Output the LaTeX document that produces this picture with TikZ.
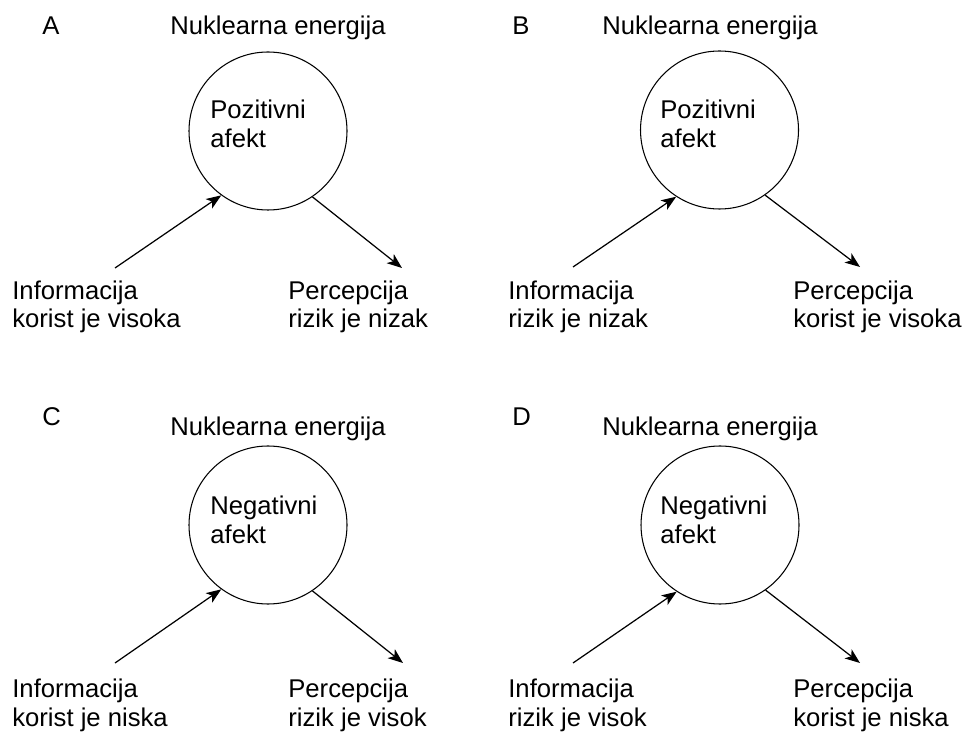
\documentclass[tikz,border=0pt]{standalone}
\usepackage{fontspec}
\setmainfont{Liberation Sans}
\usetikzlibrary{arrows.meta}

\begin{document}
\begin{tikzpicture}[
  txt/.style={anchor=base west, inner sep=0pt, align=left, font=\fontsize{14.6}{16.5}\selectfont},
  afekt/.style={draw, circle, line width=0.6pt, minimum size=3.16cm, inner sep=0pt},
  arr/.style={-{Stealth[length=3mm, width=2.3mm, inset=0.8mm]}, line width=0.7pt}
]
\useasboundingbox (0,0) rectangle (19.26,14.66);

% Panel A
\node[txt] (labA) at (0.84,13.96) {A};
\node[txt] (titA) at (3.40,13.96) {Nuklearna energija};
\node[afekt] (circA) at (5.36,12.04) {};
\node[txt] (textA) at (4.20,11.70) {Pozitivni\\afekt};
\node[txt] (infoA) at (0.24,8.10) {Informacija\\korist je visoka};
\node[txt] (percA) at (5.76,8.10) {Percepcija\\rizik je nizak};
\coordinate (startA) at (2.30,9.30);
\coordinate (endA) at (8.04,9.30);
\draw[arr] (startA) -- (circA.234);
\draw[arr] (circA.304) -- (endA);

% Panel B
\node[txt] (labB) at (10.24,13.96) {B};
\node[txt] (titB) at (12.04,13.96) {Nuklearna energija};
\node[afekt] (circB) at (14.39,12.06) {};
\node[txt] (textB) at (13.20,11.70) {Pozitivni\\afekt};
\node[txt] (infoB) at (10.16,8.10) {Informacija\\rizik je nizak};
\node[txt] (percB) at (15.86,8.10) {Percepcija\\korist je visoka};
\coordinate (startB) at (11.46,9.32);
\coordinate (endB) at (17.20,9.32);
\draw[arr] (startB) -- (circB.237);
\draw[arr] (circB.305) -- (endB);

% Panel C
\node[txt] (labC) at (0.84,6.16) {C};
\node[txt] (titC) at (3.40,5.96) {Nuklearna energija};
\node[afekt] (circC) at (5.36,4.16) {};
\node[txt] (textC) at (4.20,3.80) {Negativni\\afekt};
\node[txt] (infoC) at (0.24,0.14) {Informacija\\korist je niska};
\node[txt] (percC) at (5.76,0.14) {Percepcija\\rizik je visok};
\coordinate (startC) at (2.30,1.40);
\coordinate (endC) at (8.06,1.40);
\draw[arr] (startC) -- (circC.234);
\draw[arr] (circC.304) -- (endC);

% Panel D
\node[txt] (labD) at (10.24,6.16) {D};
\node[txt] (titD) at (12.04,5.96) {Nuklearna energija};
\node[afekt] (circD) at (14.40,4.16) {};
\node[txt] (textD) at (13.20,3.80) {Negativni\\afekt};
\node[txt] (infoD) at (10.16,0.14) {Informacija\\rizik je visok};
\node[txt] (percD) at (15.86,0.14) {Percepcija\\korist je niska};
\coordinate (startD) at (11.46,1.40);
\coordinate (endD) at (17.20,1.40);
\draw[arr] (startD) -- (circD.237);
\draw[arr] (circD.305) -- (endD);
\end{tikzpicture}
\end{document}
